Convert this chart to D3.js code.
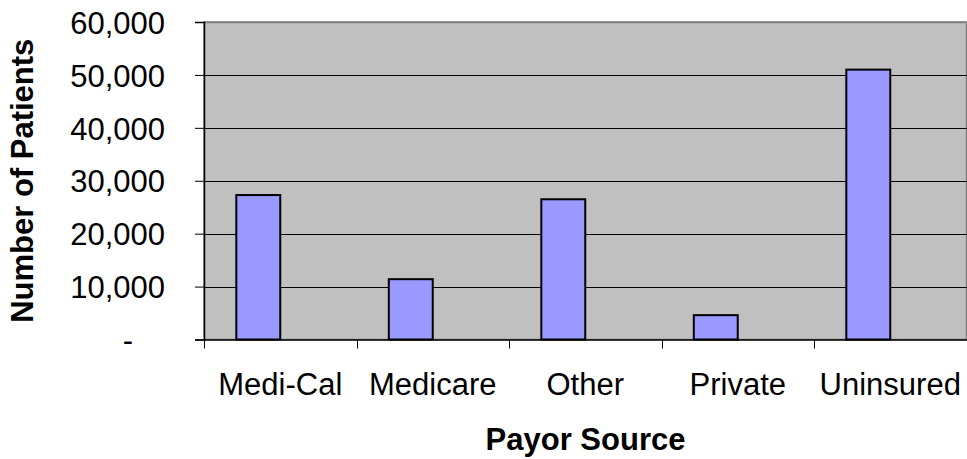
<!DOCTYPE html>
<html><head><meta charset="utf-8">
<script src="https://cdn.jsdelivr.net/npm/d3@7"></script>
<style>body{margin:0;background:#fff}svg{display:block}text{font-family:"Liberation Sans",Arial,sans-serif}</style>
</head><body>
<script>
const categories = ["Medi-Cal","Medicare","Other","Private","Uninsured"];
const patients = [27300, 11400, 26500, 4600, 51000];
const yTicks = [0,10000,20000,30000,40000,50000,60000];
const seriesSlots = ["patients","(empty)"];

const W=967,H=459;
const m={left:204,right:0.5,top:22,bottom:119.5};
const svg=d3.select("body").append("svg").attr("width",W).attr("height",H);
const x=d3.scaleBand().domain(categories).range([m.left,W-m.right]).paddingInner(0).paddingOuter(0);
const inner=d3.scaleBand().domain(seriesSlots).range([0,x.bandwidth()]).paddingInner(0).paddingOuter(0.735);
const y=d3.scaleLinear().domain([0,60000]).range([H-m.bottom,m.top]);

svg.append("rect").attr("x",m.left).attr("y",m.top).attr("width",W-m.right-m.left).attr("height",y(0)-m.top)
  .attr("fill","#C0C0C0").attr("stroke","#808080").attr("stroke-width",1.5);

svg.append("g").selectAll("line").data(yTicks.filter(d=>d>0)).join("line")
  .attr("x1",m.left).attr("x2",W-m.right).attr("y1",d=>Math.round(y(d))+0.5).attr("y2",d=>Math.round(y(d))+0.5)
  .attr("stroke",d=>d===60000?"#808080":"#000").attr("stroke-width",d=>d===60000?1.5:1);

svg.append("g").selectAll("rect").data(categories).join("rect")
  .attr("x",d=>x(d)+inner("patients")).attr("width",inner.bandwidth())
  .attr("y",(d,i)=>y(patients[i])).attr("height",(d,i)=>y(0)-y(patients[i]))
  .attr("fill","#9999FF").attr("stroke","#000").attr("stroke-width",2);

const fmt=d=>d===0?"-":d3.format(",")(d);
const ya=svg.append("g").attr("transform",`translate(${m.left},0)`)
  .call(d3.axisLeft(y).tickValues(yTicks).tickFormat(fmt).tickSize(9).tickPadding(30));
ya.attr("font-size",null).attr("font-family",null);
ya.select(".domain").attr("stroke","#000").attr("stroke-width",1.5);
ya.selectAll(".tick line").attr("stroke","#000");
ya.selectAll(".tick text").style("font-size","31px").attr("fill","#000").attr("dy","0.36em");
ya.selectAll(".tick").filter(d=>d===0).select("text").attr("text-anchor","middle").attr("x",-76);

const xa=svg.append("g").attr("transform",`translate(0,${y(0)})`)
  .call(d3.axisBottom(x).tickSize(0).tickPadding(0));
xa.attr("font-size",null).attr("font-family",null);
xa.select(".domain").attr("stroke","#000").attr("stroke-width",1.5);
xa.selectAll(".tick text").style("font-size","31px").attr("fill","#000").attr("y",55).attr("dy",0);
const bounds=categories.map(c=>x(c)).concat([W-m.right]);
xa.append("g").selectAll("line").data(bounds).join("line")
  .attr("x1",d=>Math.round(d)+0.5).attr("x2",d=>Math.round(d)+0.5).attr("y1",0).attr("y2",9).attr("stroke","#000");

svg.append("text").attr("x",(m.left+W)/2).attr("y",450).attr("text-anchor","middle")
  .style("font-size","31px").attr("font-weight","bold").text("Payor Source");
svg.append("text").attr("transform",`translate(33,${(m.top+y(0))/2}) rotate(-90)`).attr("text-anchor","middle")
  .style("font-size","31px").attr("font-weight","bold").text("Number of Patients");
</script>
</body></html>
